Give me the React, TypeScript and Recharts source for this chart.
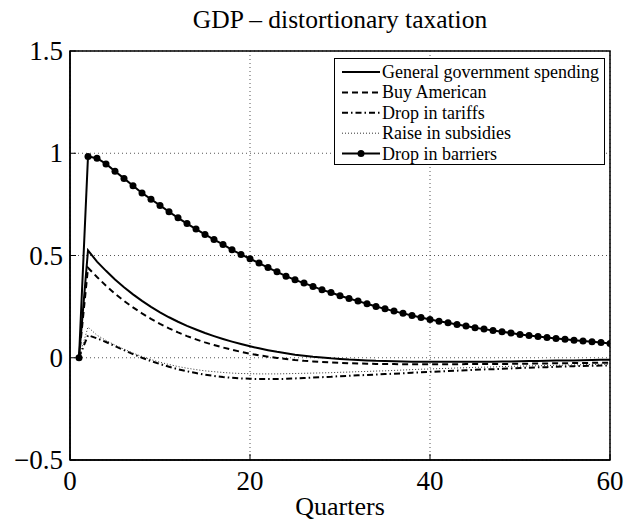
import React from 'react';
import { LineChart, Line, XAxis, YAxis, CartesianGrid, ReferenceArea, Legend } from 'recharts';

const quarters = [1,2,3,4,5,6,7,8,9,10,11,12,13,14,15,16,17,18,19,20,21,22,23,24,25,26,27,28,29,30,31,32,33,34,35,36,37,38,39,40,41,42,43,44,45,46,47,48,49,50,51,52,53,54,55,56,57,58,59,60];

const generalSpending = [0,0.525,0.47,0.425,0.383,0.345,0.31,0.278,0.249,0.222,
  0.198,0.176,0.156,0.138,0.121,0.106,0.092,0.079,0.067,0.056,
  0.046,0.037,0.029,0.022,0.015,0.01,0.005,0.001,-0.003,-0.006,
  -0.009,-0.011,-0.013,-0.015,-0.016,-0.017,-0.018,-0.019,-0.019,-0.02,
  -0.02,-0.02,-0.02,-0.02,-0.02,-0.019,-0.019,-0.018,-0.018,-0.017,
  -0.016,-0.016,-0.015,-0.014,-0.013,-0.013,-0.012,-0.011,-0.01,-0.01];

const buyAmerican = [0,0.44,0.395,0.352,0.313,0.278,0.246,0.217,0.19,0.166,
  0.144,0.124,0.106,0.09,0.075,0.062,0.05,0.039,0.029,0.02,
  0.012,0.005,-0.001,-0.006,-0.011,-0.015,-0.018,-0.021,-0.023,-0.025,
  -0.027,-0.028,-0.029,-0.03,-0.031,-0.031,-0.032,-0.032,-0.032,-0.032,
  -0.032,-0.032,-0.032,-0.031,-0.031,-0.031,-0.03,-0.03,-0.03,-0.029,
  -0.029,-0.028,-0.028,-0.027,-0.027,-0.026,-0.026,-0.025,-0.025,-0.024];

const dropTariffs = [0,0.11,0.095,0.077,0.057,0.037,0.018,0.0,-0.016,-0.031,
  -0.044,-0.056,-0.066,-0.075,-0.083,-0.089,-0.094,-0.098,-0.101,-0.103,
  -0.104,-0.104,-0.104,-0.103,-0.101,-0.099,-0.097,-0.095,-0.093,-0.09,
  -0.088,-0.086,-0.084,-0.082,-0.08,-0.078,-0.076,-0.073,-0.071,-0.069,
  -0.067,-0.065,-0.063,-0.061,-0.059,-0.057,-0.056,-0.054,-0.052,-0.05,
  -0.049,-0.047,-0.046,-0.044,-0.043,-0.041,-0.04,-0.039,-0.038,-0.037];

const raiseSubsidies = [0,0.15,0.11,0.085,0.062,0.042,0.023,0.006,-0.009,-0.022,
  -0.033,-0.043,-0.051,-0.058,-0.064,-0.068,-0.072,-0.075,-0.077,-0.078,
  -0.079,-0.079,-0.079,-0.078,-0.077,-0.076,-0.075,-0.074,-0.073,-0.071,
  -0.07,-0.068,-0.067,-0.065,-0.064,-0.062,-0.06,-0.058,-0.056,-0.055,
  -0.053,-0.052,-0.05,-0.049,-0.047,-0.046,-0.045,-0.043,-0.042,-0.041,
  -0.04,-0.039,-0.038,-0.037,-0.036,-0.035,-0.034,-0.033,-0.032,-0.031];

const dropBarriers = [0,0.984,0.976,0.948,0.912,0.877,0.841,0.806,0.775,0.745,
  0.714,0.684,0.656,0.629,0.603,0.578,0.554,0.528,0.505,0.484,
  0.463,0.441,0.42,0.399,0.381,0.365,0.349,0.332,0.319,0.303,
  0.29,0.277,0.264,0.251,0.239,0.228,0.217,0.207,0.197,0.187,
  0.179,0.171,0.163,0.155,0.147,0.14,0.133,0.127,0.121,0.114,
  0.109,0.104,0.099,0.094,0.091,0.086,0.082,0.078,0.075,0.07];

const xTicks = [0, 20, 40, 60];
const yTicks = [-0.5, 0, 0.5, 1, 1.5];

const titleText = 'GDP \u2013 distortionary taxation';
const xLabelText = 'Quarters';

const seriesKeys = ['ggs', 'buy', 'tar', 'sub', 'bar'];
const seriesNames = ['General government spending', 'Buy American', 'Drop in tariffs', 'Raise in subsidies', 'Drop in barriers'];

const data = quarters.map((q, i) => ({
  q,
  ggs: generalSpending[i],
  buy: buyAmerican[i],
  tar: dropTariffs[i],
  sub: raiseSubsidies[i],
  bar: dropBarriers[i],
}));

const FONT = '"Liberation Serif", "Times New Roman", serif';

const styles: Record<string, { dash?: string; width: number; color: string; dot?: boolean }> = {
  ggs: { width: 2, color: '#000' },
  buy: { dash: '6 4', width: 2, color: '#000' },
  tar: { dash: '6 3 1.5 3', width: 2, color: '#000' },
  sub: { dash: '1 2', width: 1, color: '#333' },
  bar: { width: 2, color: '#000', dot: true },
};

const fmt = (v: number) => (v < 0 ? '\u2212' + String(Math.abs(v)) : String(v));

const XTick = (props: any) => {
  const { x, y, payload } = props;
  return (
    <g>
      <line x1={x} x2={x} y1={y} y2={y - 6} stroke="#000" />
      <text x={x} y={y + 30} textAnchor="middle" fontSize={27} fontFamily={FONT} fill="#000">
        {fmt(payload.value)}
      </text>
    </g>
  );
};

const YTick = (props: any) => {
  const { x, y, payload } = props;
  return (
    <g>
      <line x1={x} x2={x + 6} y1={y} y2={y} stroke="#000" />
      <text x={x - 7} y={y + 9} textAnchor="end" fontSize={27} fontFamily={FONT} fill="#000">
        {fmt(payload.value)}
      </text>
    </g>
  );
};

const renderLegend = () => {
  const rowH = 20.4;
  return (
    <div style={{ width: 271, height: 107, border: '1px solid #000', background: '#fff', boxSizing: 'border-box' }}>
      <svg width={269} height={105}>
        {seriesKeys.map((key, i) => {
          const st = styles[key];
          const cy = 13 + i * rowH;
          return (
            <g key={key}>
              <line x1={7} x2={45} y1={cy} y2={cy} stroke={st.color} strokeWidth={st.width} strokeDasharray={st.dash} />
              {st.dot ? <circle cx={26} cy={cy} r={3.5} fill="#000" /> : null}
              <text x={47} y={cy + 6} fontSize={18} fontFamily={FONT} fill="#000">{seriesNames[i]}</text>
            </g>
          );
        })}
      </svg>
    </div>
  );
};

export default function App() {
  return (
    <div style={{ position: 'relative', width: 626, height: 525, fontFamily: FONT, overflow: 'visible' }}>
      <style>{'body{margin:0}'}</style>
      <div style={{ position: 'absolute', left: 70, top: 7, width: 540, textAlign: 'center', fontSize: 25.5, lineHeight: '25px', color: '#000', fontFamily: FONT }}>
        {titleText}
      </div>
      <LineChart width={626} height={525} data={data} margin={{ top: 51, right: 16, left: 0, bottom: 0 }} style={{ overflow: 'visible' }}>
        <CartesianGrid stroke="#555" strokeDasharray="1 3" horizontalValues={yTicks} verticalValues={xTicks} />
        <XAxis dataKey="q" type="number" domain={[0, 60]} ticks={xTicks} height={65} tickSize={0} tickMargin={0}
          axisLine={{ stroke: '#000', strokeWidth: 1.5 }} tickLine={false} tick={<XTick />} allowDataOverflow interval={0} />
        <YAxis type="number" domain={[-0.5, 1.5]} ticks={yTicks} width={70} tickSize={0} tickMargin={0}
          axisLine={{ stroke: '#000', strokeWidth: 1.5 }} tickLine={false} tick={<YTick />} allowDataOverflow interval={0} />
        <ReferenceArea x1={0} x2={60} y1={-0.5} y2={1.5} fill="none" stroke="#000" strokeWidth={1.5} ifOverflow="visible" />
        <Line dataKey="ggs" name={seriesNames[0]} stroke="#000" strokeWidth={2} dot={false} isAnimationActive={false} />
        <Line dataKey="buy" name={seriesNames[1]} stroke="#000" strokeWidth={2} strokeDasharray="6 4" dot={false} isAnimationActive={false} />
        <Line dataKey="tar" name={seriesNames[2]} stroke="#000" strokeWidth={2} strokeDasharray="6 3 1.5 3" dot={false} isAnimationActive={false} />
        <Line dataKey="sub" name={seriesNames[3]} stroke="#333" strokeWidth={1} strokeDasharray="1 2" dot={false} isAnimationActive={false} />
        <Line dataKey="bar" name={seriesNames[4]} stroke="#000" strokeWidth={2} dot={{ r: 3.5, fill: '#000', stroke: '#000', strokeWidth: 0 }} isAnimationActive={false} />
        <Legend content={renderLegend} layout="vertical" align="center" verticalAlign="middle"
          wrapperStyle={{ position: 'absolute', left: 334, top: 58, width: 271, height: 107 }} />
      </LineChart>
      <div style={{ position: 'absolute', left: 70, top: 494, width: 540, textAlign: 'center', fontSize: 26, lineHeight: '26px', color: '#000', fontFamily: FONT }}>
        {xLabelText}
      </div>
    </div>
  );
}
